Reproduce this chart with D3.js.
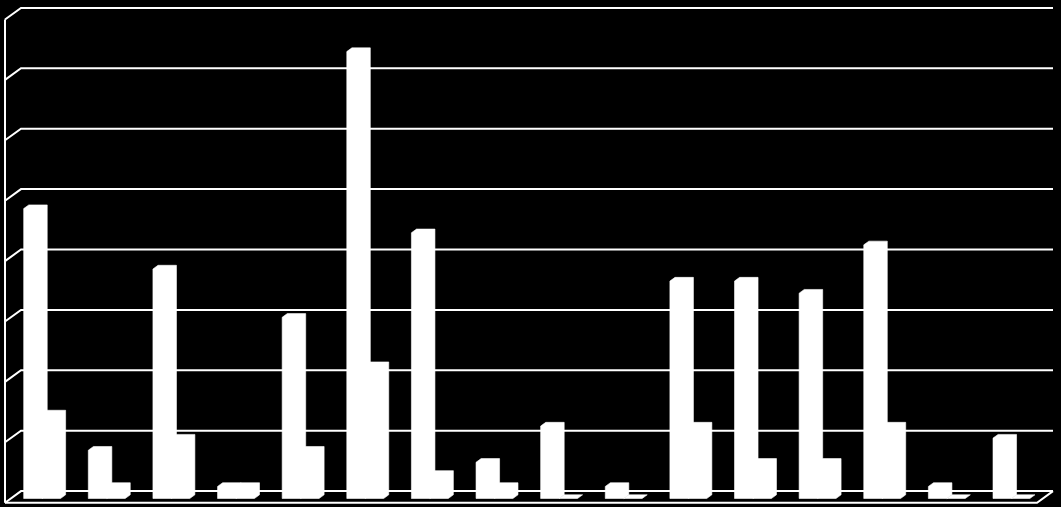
<!DOCTYPE html>
<html>
<head>
<meta charset="utf-8">
<script src="https://cdn.jsdelivr.net/npm/d3@7"></script>
<style>
  html, body { margin: 0; padding: 0; background: #000; }
  svg { display: block; }
</style>
</head>
<body>
<div id="chart"></div>
<script>
// categories (no labels shown in the picture)
const categories = d3.range(1, 17).map(d => "C" + d);
const series = ["a", "b"];
// values (gridline step = 5)
const seriesA = [24, 4, 19, 1, 15, 37, 22, 3, 6, 1, 18, 18, 17, 21, 1, 5];
const seriesB = [7, 1, 5, 1, 4, 11, 2, 1, 0, 0, 6, 3, 3, 6, 0, 0];
const yTicks = [0, 5, 10, 15, 20, 25, 30, 35, 40];

const width = 1061, height = 507;
// front plane of the box
const left = 5, right = 1037, floorY = 502.7, topY = 19.5;
// 3d depth offset (back wall relative to front plane)
const depthX = 16, depthY = 11.6;
// bars sit between these depths
const zFront = 0.36, zBack = 0.68;

const svg = d3.select("#chart").append("svg")
  .attr("width", width)
  .attr("height", height);

svg.append("rect")
  .attr("width", width).attr("height", height)
  .attr("fill", "#000");

const x = d3.scaleBand()
  .domain(categories)
  .range([left, right])
  .paddingInner(0.43)
  .paddingOuter(0.2);

const xSub = d3.scaleBand()
  .domain(series)
  .range([0, x.bandwidth()]);

const y = d3.scaleLinear()
  .domain([0, 40])
  .range([floorY, topY]);

// project a point on the front plane back by depth z (0..1)
function proj(px, py, z) {
  return [px + depthX * z, py - depthY * z];
}

const grid = svg.append("g")
  .attr("stroke", "#fff")
  .attr("stroke-width", 2)
  .attr("fill", "none");

// gridlines: diagonal on the left wall plus line on the back wall
yTicks.forEach(t => {
  const a = proj(left, y(t), 0), b = proj(left, y(t), 1), c = proj(right, y(t), 1);
  grid.append("path").attr("d", d3.line()([a, b, c]));
});

// left wall front edge
grid.append("path")
  .attr("d", d3.line()([proj(left, y(0), 0), proj(left, y(40), 0)]));

// floor front edge + right diagonal
grid.append("path")
  .attr("d", d3.line()([proj(left, y(0), 0), proj(right, y(0), 0), proj(right, y(0), 1)]));

// bars
const data = categories.map((c, i) => ({ cat: c, a: seriesA[i], b: seriesB[i] }));

const groups = svg.append("g").selectAll("g")
  .data(data)
  .join("g");

groups.selectAll("path")
  .data(d => series.map(s => ({ cat: d.cat, key: s, value: d[s] })))
  .join("path")
  .attr("fill", "#fff")
  .attr("stroke", "#fff")
  .attr("stroke-width", 0.6)
  .attr("stroke-linejoin", "round")
  .attr("d", d => {
    const x0 = x(d.cat) + xSub(d.key);
    const x1 = x0 + xSub.bandwidth();
    const yb = y(0), yt = y(d.value);
    const pts = [
      proj(x0, yb, zFront),
      proj(x0, yt, zFront),
      proj(x0, yt, zBack),
      proj(x1, yt, zBack),
      proj(x1, yb, zBack),
      proj(x1, yb, zFront)
    ];
    return d3.line()(pts) + "Z";
  });
</script>
</body>
</html>
